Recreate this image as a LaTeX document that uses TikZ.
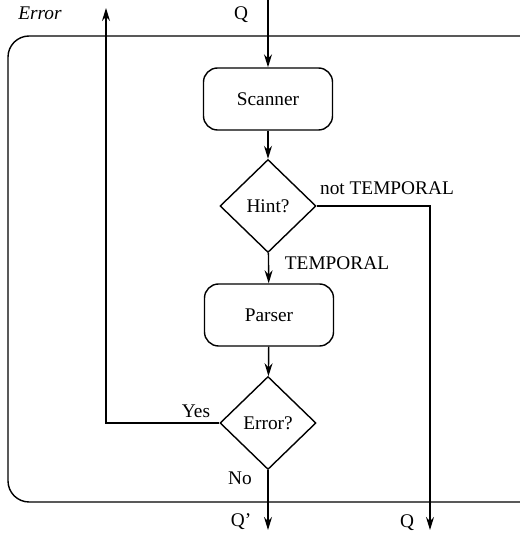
\documentclass[tikz,border=0pt]{standalone}
\usepackage{fontspec}
\setmainfont{Liberation Serif}
\usetikzlibrary{arrows.meta, positioning, shapes.geometric}

\begin{document}
\begin{tikzpicture}[
  line width=0.8pt,
  >={Stealth[length=2.6mm, width=1.6mm]},
  every node/.style={font=\fontsize{11}{13}\selectfont},
  procbox/.style={draw, rounded corners=8pt, minimum width=2.58cm, minimum height=1.24cm},
  decision/.style={draw, diamond, aspect=1, minimum width=1.92cm, minimum height=1.86cm, inner sep=0pt}
]
  \path[use as bounding box, clip] (0,0) rectangle (10.4,10.74);

  % Outer frame (runs past the right edge)
  \draw[rounded corners=12pt] (10.8,0.7) -- (0.16,0.7) -- (0.16,10.02) -- (10.8,10.02);

  % Steps
  \node[procbox] (scanner) at (5.36,8.76) {Scanner};
  \node[decision] (hint) at (5.36,6.62) {Hint?};
  \node[procbox] (parser) at (5.38,4.44) {Parser};
  \node[decision] (err) at (5.36,2.28) {Error?};

  % Free ends
  \coordinate (qin) at (5.36,10.74);
  \coordinate (errout) at (2.12,10.58);
  \coordinate (qout) at (5.36,0.14);
  \coordinate (qpass) at (8.6,0.14);

  % Flow
  \draw[->] (qin) -- (scanner);
  \draw[->] (scanner) -- (hint);
  \draw[->] (hint) -- (parser);
  \draw[->] (parser) -- (err);
  \draw[->] (hint.east) -| (qpass);
  \draw[->] (err.west) -| (errout);
  \draw[->] (err) -- (qout);

  % Labels
  \node[font=\fontsize{11}{13}\selectfont\itshape] (errlbl) at (0.8,10.48) {Error};
  \node (qinlbl) at (4.82,10.44) {Q};
  \node (nottemp) at (7.74,6.98) {not TEMPORAL};
  \node (temp) at (6.74,5.48) {TEMPORAL};
  \node (yes) at (3.92,2.52) {Yes};
  \node (no) at (4.8,1.18) {No};
  \node (qprime) at (4.82,0.3) {Q'};
  \node (qpasslbl) at (8.14,0.28) {Q};
\end{tikzpicture}
\end{document}
